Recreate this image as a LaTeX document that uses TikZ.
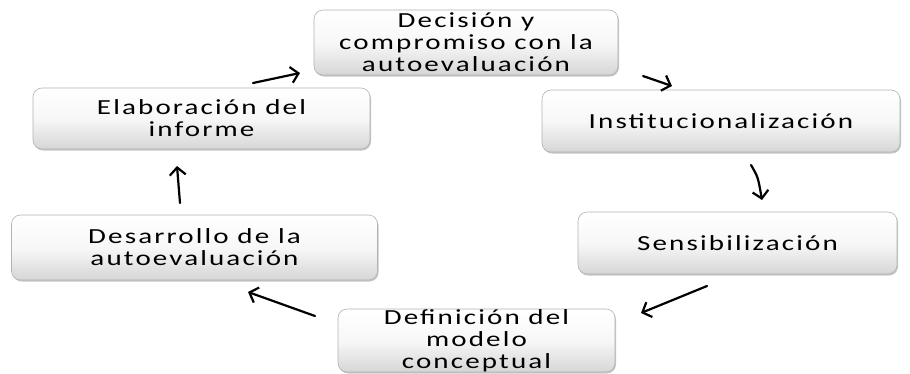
\documentclass[tikz,border=0pt]{standalone}
\usepackage{fontspec}
\setmainfont{Carlito}[FakeStretch=1.35,LetterSpace=10]
\usetikzlibrary{arrows.meta,shadows}
\tikzset{
  stage/.style={rectangle, rounded corners=9pt, draw=gray!60, line width=0.6pt,
    top color=white, bottom color=gray!32, middle color=gray!6,
    drop shadow={shadow xshift=1pt, shadow yshift=-1.5pt, opacity=0.45},
    align=center, inner sep=0pt, text=black,
    font=\fontsize{21.5}{22}\selectfont},
  handarrow/.style={line width=2.2pt, line cap=round, draw=black,
    -{Straight Barb[length=7.5pt,width=16pt,line width=2.2pt]}}
}
\begin{document}
\begin{tikzpicture}[x=1pt,y=-1pt]
\useasboundingbox (0,0) rectangle (910,373);
% boxes
\node[stage, minimum width=304pt, minimum height=65pt] (dec) at (466,42.5) {Decisión y\\compromiso con la\\autoevaluación};
\node[stage, minimum width=337pt, minimum height=61pt] (ela) at (201.5,118.5) {Elaboración del\\informe};
\node[stage, minimum width=358pt, minimum height=62pt] (ins) at (721,121) {Institucionalización};
\node[stage, minimum width=366pt, minimum height=65pt] (des) at (194.5,247.5) {Desarrollo de la\\autoevaluación};
\node[stage, minimum width=319pt, minimum height=62pt] (sen) at (737.5,243) {Sensibilización};
\node[stage, minimum width=277pt, minimum height=63pt] (def) at (476.5,340.5) {Definición del\\modelo\\conceptual};
% connector end points
\coordinate (a1s) at (253,83);  \coordinate (a1e) at (300,73);
\coordinate (a2s) at (643,76);  \coordinate (a2e) at (672,86);
\coordinate (a3s) at (751,165); \coordinate (a3e) at (762,200);
\coordinate (a4s) at (707,286); \coordinate (a4e) at (641,313);
\coordinate (a5s) at (315,316); \coordinate (a5e) at (248,292);
\coordinate (a6s) at (180,203); \coordinate (a6e) at (177,166);
% connectors
\draw[handarrow] (a1s) -- (a1e);
\draw[handarrow] (a2s) -- (a2e);
\draw[handarrow] (a3s) .. controls (758,177) .. (a3e);
\draw[handarrow] (a4s) -- (a4e);
\draw[handarrow] (a5s) -- (a5e);
\draw[handarrow] (a6s) -- (a6e);
\end{tikzpicture}
\end{document}
